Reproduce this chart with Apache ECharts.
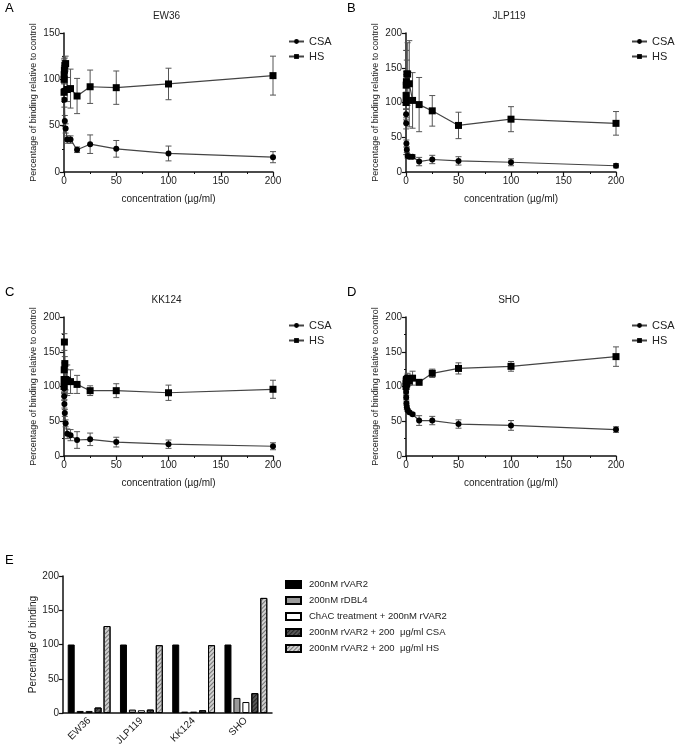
<!DOCTYPE html>
<html>
<head>
<meta charset="utf-8">
<script src="https://cdn.jsdelivr.net/npm/echarts@6/dist/echarts.min.js"></script>
<style>html,body{margin:0;padding:0;background:#fff}#c{width:675px;height:750px}</style>
</head>
<body>
<div id="c"></div>
<script>
// ---------- DATA ----------
var conc = [200, 100, 50, 25, 12.5, 6.25, 3.125, 1.5625, 0.78125, 0.390625, 0.1953125, 0.09765625, 0.048828125];

var ew36_csa     = [16, 20, 25, 30, 24, 35, 35, 47, 55, 78, 88, 100, 110];
var ew36_csa_err = [6, 8, 9, 10, 3, 4, 4, 5, 6, 8, 8, 10, 12];
var ew36_hs      = [104, 95, 91, 92, 82, 90, 89, 117, 115, 110, 105, 100, 86];
var ew36_hs_err  = [21, 17, 18, 18, 19, 21, 13, 8, 8, 10, 10, 12, 10];

var jlp_csa      = [9, 14, 16, 18, 15, 22, 22, 23, 32, 41, 70, 83, 100];
var jlp_csa_err  = [3, 5, 6, 6, 6, 3, 3, 3, 4, 5, 8, 8, 10];
var jlp_hs       = [70, 76, 67, 88, 97, 103, 127, 141, 141, 130, 125, 110, 100];
var jlp_hs_err   = [17, 18, 19, 22, 39, 40, 62, 45, 20, 15, 15, 12, 75];

var kk_csa       = [14, 17, 20, 24, 23, 30, 32, 47, 62, 75, 86, 97, 100];
var kk_csa_err   = [5, 6, 7, 9, 12, 8, 7, 5, 5, 6, 6, 6, 8];
var kk_hs        = [96, 91, 94, 94, 103, 107, 109, 110, 133, 164, 124, 110, 100];
var kk_hs_err    = [13, 11, 10, 7, 13, 17, 22, 15, 10, 12, 10, 10, 10];

var sho_csa      = [38, 44, 46, 51, 51, 60, 63, 66, 70, 76, 84, 92, 100];
var sho_csa_err  = [4, 7, 6, 6, 7, 2, 2, 2, 3, 3, 3, 3, 3];
var sho_hs       = [143, 129, 126, 119, 106, 112, 108, 112, 104, 110, 108, 104, 100];
var sho_hs_err   = [14, 7, 8, 6, 2, 10, 6, 7, 5, 5, 5, 5, 5];

var panelTitles = ['EW36', 'JLP119', 'KK124', 'SHO'];
var panelLetters = ['A', 'B', 'C', 'D', 'E'];

var barCategories = ['EW36', 'JLP119', 'KK124', 'SHO'];
var barNames = ['200nM rVAR2', '200nM rDBL4', 'ChAC treatment + 200nM rVAR2', '200nM rVAR2 + 200  \u03bcg/ml CSA', '200nM rVAR2 + 200  \u03bcg/ml HS'];
var bar_rvar2 = [100, 100, 100, 100];
var bar_rdbl4 = [3, 5, 2, 22];
var bar_chac  = [3, 4, 2, 16];
var bar_csa   = [8, 5, 4, 29];
var bar_hs    = [127, 99, 99, 168];

// ---------- CHART ----------
var FONT = 'Liberation Sans, Arial, sans-serif';
var TXT = '#222';
var panels = [
  {csa: ew36_csa, csaErr: ew36_csa_err, hs: ew36_hs, hsErr: ew36_hs_err, ymax: 150, left: 64, top: 33, width: 209},
  {csa: jlp_csa, csaErr: jlp_csa_err, hs: jlp_hs, hsErr: jlp_hs_err, ymax: 200, left: 406, top: 33, width: 210},
  {csa: kk_csa, csaErr: kk_csa_err, hs: kk_hs, hsErr: kk_hs_err, ymax: 200, left: 64, top: 317, width: 209},
  {csa: sho_csa, csaErr: sho_csa_err, hs: sho_hs, hsErr: sho_hs_err, ymax: 200, left: 406, top: 317, width: 210}
];
var PH = 139;

function pairs(xs, ys) { return xs.map(function (x, i) { return [x, ys[i]]; }); }
function errs(xs, ys, es) { return xs.map(function (x, i) { return [x, ys[i] - es[i], ys[i] + es[i]]; }); }

function renderErr(params, api) {
  var x = api.value(0), lo = api.value(1), hi = api.value(2);
  var p1 = api.coord([x, lo]), p2 = api.coord([x, hi]);
  var w = 3;
  var st = {stroke: '#555', lineWidth: 1};
  return {type: 'group', children: [
    {type: 'line', shape: {x1: p1[0], y1: p1[1], x2: p2[0], y2: p2[1]}, style: st},
    {type: 'line', shape: {x1: p1[0] - w, y1: p1[1], x2: p1[0] + w, y2: p1[1]}, style: st},
    {type: 'line', shape: {x1: p2[0] - w, y1: p2[1], x2: p2[0] + w, y2: p2[1]}, style: st}
  ]};
}

var axisCommon = {
  axisLine: {lineStyle: {color: '#111', width: 1.5}},
  axisTick: {length: 4, lineStyle: {color: '#111', width: 1.2}},
  minorTick: {show: true, splitNumber: 2, length: 2, lineStyle: {color: '#111', width: 1}},
  axisLabel: {fontFamily: FONT, fontSize: 10, color: TXT, margin: 4},
  splitLine: {show: false},
  nameTextStyle: {fontFamily: FONT, fontSize: 10, color: TXT}
};

var grid = [], xAxis = [], yAxis = [], series = [], title = [], legend = [];

panels.forEach(function (p, i) {
  grid.push({left: p.left, top: p.top, width: p.width, height: PH});
  xAxis.push(Object.assign({}, axisCommon, {
    type: 'value', gridIndex: i, min: 0, max: 200, interval: 50,
    name: 'concentration (\u00b5g/ml)', nameLocation: 'middle', nameGap: 22
  }));
  yAxis.push(Object.assign({}, axisCommon, {
    type: 'value', gridIndex: i, min: 0, max: p.ymax, interval: 50,
    name: 'Percentage of binding relative to control', nameLocation: 'middle', nameGap: 26,
    nameTextStyle: {fontFamily: FONT, fontSize: 9, color: TXT}
  }));
  series.push({
    type: 'custom', xAxisIndex: i, yAxisIndex: i, renderItem: renderErr,
    data: errs(conc, p.hs, p.hsErr), encode: {x: 0, y: [1, 2]}, z: 1, silent: true
  });
  series.push({
    type: 'custom', xAxisIndex: i, yAxisIndex: i, renderItem: renderErr,
    data: errs(conc, p.csa, p.csaErr), encode: {x: 0, y: [1, 2]}, z: 1, silent: true
  });
  series.push({
    name: 'CSA', type: 'line', xAxisIndex: i, yAxisIndex: i,
    data: pairs(conc, p.csa), symbol: 'circle', symbolSize: 6, showAllSymbol: true,
    lineStyle: {color: '#444', width: 1.2}, itemStyle: {color: '#000'}, z: 3, animation: false
  });
  series.push({
    name: 'HS', type: 'line', xAxisIndex: i, yAxisIndex: i,
    data: pairs(conc, p.hs), symbol: 'rect', symbolSize: 7, showAllSymbol: true,
    lineStyle: {color: '#444', width: 1.2}, itemStyle: {color: '#000'}, z: 3, animation: false
  });
  title.push({
    text: panelTitles[i], left: p.left + p.width / 2 - 2, top: p.top - 22, textAlign: 'center', padding: 0,
    textStyle: {fontFamily: FONT, fontSize: 10, fontWeight: 'normal', color: TXT}
  });
  title.push({
    text: panelLetters[i], left: p.left - 59, top: p.top - 31, padding: 0,
    textStyle: {fontFamily: FONT, fontSize: 13, fontWeight: 'normal', color: '#000'}
  });
  legend.push({
    data: ['CSA', 'HS'], orient: 'vertical', left: p.left + p.width + 15, top: p.top + 3, padding: 0,
    itemWidth: 15, itemHeight: 6, itemGap: 4,
    textStyle: {fontFamily: FONT, fontSize: 11, color: TXT, lineHeight: 11}
  });
});

// Panel E
var eIdx = 4;
grid.push({left: 63, top: 576, width: 209, height: 137});
xAxis.push({
  type: 'category', gridIndex: eIdx, data: barCategories,
  axisLine: {lineStyle: {color: '#111', width: 1.5}},
  axisTick: {alignWithLabel: true, length: 4, lineStyle: {color: '#111', width: 1.2}},
  axisLabel: {fontFamily: FONT, fontSize: 10, color: TXT, rotate: 45, margin: 6}
});
yAxis.push({
  type: 'value', gridIndex: eIdx, min: 0, max: 200, interval: 50,
  axisLine: {show: true, lineStyle: {color: '#111', width: 1.5}},
  axisTick: {show: true, length: 4, lineStyle: {color: '#111', width: 1.2}},
  axisLabel: {fontFamily: FONT, fontSize: 10, color: TXT, margin: 4},
  splitLine: {show: false},
  name: 'Percentage of binding', nameLocation: 'middle', nameGap: 25,
  nameTextStyle: {fontFamily: FONT, fontSize: 10, color: TXT}
});
title.push({
  text: 'E', left: 5, top: 554, padding: 0,
  textStyle: {fontFamily: FONT, fontSize: 13, fontWeight: 'normal', color: '#000'}
});
var barStyles = [
  {color: '#000'},
  {color: '#9a9a9a'},
  {color: '#fff'},
  {color: '#555', decal: {symbol: 'rect', symbolSize: 1, dashArrayX: [1, 0], dashArrayY: [1, 2], rotation: -Math.PI / 4, color: '#222'}},
  {color: '#d0d0d0', decal: {symbol: 'rect', symbolSize: 1, dashArrayX: [1, 0], dashArrayY: [1, 2], rotation: -Math.PI / 4, color: '#777'}}
];
var barData = [bar_rvar2, bar_rdbl4, bar_chac, bar_csa, bar_hs];
barNames.forEach(function (n, k) {
  series.push({
    name: n, type: 'bar', xAxisIndex: eIdx, yAxisIndex: eIdx, data: barData[k],
    barWidth: 7, barGap: '28%',
    itemStyle: Object.assign({borderColor: '#000', borderWidth: 1}, barStyles[k]),
    animation: false
  });
});
legend.push({
  data: barNames, orient: 'vertical', left: 285, top: 579, padding: 0, icon: 'rect',
  itemWidth: 15, itemHeight: 7, itemGap: 5,
  textStyle: {fontFamily: FONT, fontSize: 9.5, color: TXT, lineHeight: 11, padding: [0, 0, 0, 3]}
});

var chart = echarts.init(document.getElementById('c'), null, {renderer: 'canvas'});
chart.setOption({
  animation: false,
  backgroundColor: '#fff',
  title: title, legend: legend, grid: grid, xAxis: xAxis, yAxis: yAxis, series: series
});
</script>
</body>
</html>
